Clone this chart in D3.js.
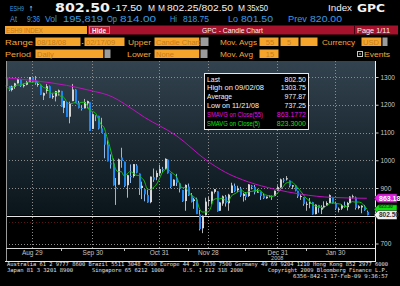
<!DOCTYPE html>
<html>
<head>
<meta charset="utf-8">
<title>ESH9 Index GPC</title>
<script src="https://cdn.jsdelivr.net/npm/d3@7/dist/d3.min.js"></script>
<style>
  html, body { margin: 0; padding: 0; background: #000; }
  svg { display: block; }
  text { font-family: "Liberation Sans", Arial, sans-serif; }
</style>
</head>
<body>
<div id="chart"></div>
<script>
// ESH9 daily bars, 08/18/08 - 02/17/09, one entry per trading day
const opens = [
  1298, 1267, 1253, 1265, 1277, 1291, 1267, 1272, 1283, 1297,
  1288, 1275, 1272, 1233, 1250, 1267, 1227, 1230, 1245, 1250,
  1189, 1210, 1157, 1213, 1255, 1207, 1188, 1187, 1205, 1209,
  1113, 1162, 1160, 1115, 1097, 1057, 989, 988, 903, 912,
  1010, 995, 910, 943, 943, 981, 952, 900, 896, 875,
  849, 939, 939, 953, 968, 969, 1002, 952, 908, 937,
  917, 893, 853, 905, 873, 853, 859, 805, 755, 802,
  853, 852, 886, 888, 818, 844, 869, 845, 882, 907,
  892, 898, 871, 881, 871, 909, 904, 886, 887, 874,
  863, 869, 872, 871, 890, 902, 930, 931, 927, 905,
  909, 890, 869, 867, 841, 844, 849, 806, 839, 822,
  832, 837, 846, 868, 845, 823, 826, 838, 831, 846,
  868, 866, 828, 830, 833, 814
];
const highs = [
  1300, 1267, 1269, 1279, 1294, 1291, 1276, 1286, 1300, 1298,
  1303.75, 1280, 1272, 1244, 1275, 1269, 1243, 1250, 1255, 1250,
  1214, 1210, 1211, 1275, 1256, 1214, 1198, 1221, 1215, 1209,
  1169, 1163, 1160, 1153, 1097, 1072, 1021, 1006, 936, 1006,
  1045, 995, 948, 985, 986, 986, 952, 923, 896, 894,
  941, 970, 963, 984, 976, 1007, 1003, 952, 931, 951,
  917, 893, 913, 916, 882, 865, 865, 821, 801, 865,
  868, 887, 896, 888, 850, 873, 875, 879, 919, 916,
  908, 904, 883, 885, 914, 911, 911, 897, 887, 880,
  869, 873, 873, 891, 910, 934, 936, 943, 927, 910,
  911, 890, 877, 867, 851, 864, 850, 841, 839, 838,
  852, 852, 877, 868, 851, 830, 842, 851, 850, 870,
  876, 869, 838, 838, 839, 818.75
];
const lows = [
  1261, 1249, 1248, 1257, 1277, 1264, 1262, 1270, 1283, 1282,
  1272, 1265, 1235, 1217, 1240, 1224, 1221, 1212, 1233, 1192,
  1170, 1156, 1133, 1213, 1207, 1187, 1179, 1187, 1187, 1106,
  1113, 1141, 1111, 1098, 1007, 996, 970, 909, 839, 912,
  973, 903, 865, 918, 937, 953, 875, 860, 852, 847,
  845, 922, 928, 944, 958, 969, 952, 899, 908, 907,
  884, 850, 818, 871, 848, 825, 806, 747, 737.25, 801,
  834, 841, 880, 815, 818, 836, 833, 818, 882, 885,
  885, 868, 851, 856, 868, 895, 877, 883, 857, 860,
  861, 866, 857, 870, 890, 899, 919, 927, 902, 896,
  888, 864, 857, 836, 818, 827, 804, 805, 811, 806,
  827, 835, 846, 844, 821, 812, 821, 829, 819, 845,
  862, 822, 823, 809, 818, 801.5
];
const closes = [
  1267, 1253, 1266, 1277, 1292, 1267, 1271, 1282, 1300, 1283,
  1277, 1275, 1236, 1242, 1267, 1225, 1232, 1249, 1252, 1193,
  1214, 1156, 1206, 1255, 1207, 1188, 1186, 1209, 1213, 1106,
  1166, 1161, 1114, 1099, 1056, 996, 985, 910, 899, 1003,
  998, 907, 946, 940, 986, 955, 897, 908, 877, 848,
  941, 930, 954, 968, 966, 1005, 953, 904, 930, 919,
  898, 852, 911, 873, 850, 859, 806, 752, 800, 851,
  857, 887, 896, 816, 848, 870, 845, 876, 909, 888,
  899, 873, 879, 868, 913, 904, 885, 887, 871, 863,
  869, 872, 869, 890, 903, 931, 927, 935, 907, 910,
  890, 870, 871, 842, 843, 850, 805, 840, 828, 831,
  836, 846, 874, 845, 826, 825, 838, 832, 846, 869,
  870, 828, 834, 836, 820, 802.5
];

// 55 day SMA (trading day index -> value)
const sma55Days = [0, 9, 21, 29, 37, 41, 48, 59, 70, 76, 84, 93, 102, 113, 125];
const sma55Values = [1297, 1288, 1270, 1252, 1228, 1204, 1155, 1089, 996, 957, 922, 896, 878, 866, 863];

const priceTicks = [700, 800, 900, 1000, 1100, 1200, 1300];
// the 800 label is hidden behind the last price flag
const priceLabelTicks = [700, 900, 1000, 1100, 1200, 1300];
const dateTickDays = [9, 30, 53, 70, 94, 114];
const dateTickLabels = ["Aug 29", "Sep 30", "Oct 31", "Nov 28", "Dec 31", "Jan 30"];
const midMonthDays = [19, 41, 63, 83, 104];

const legendLabels = ["Last", "High on  09/02/08", "Average", "Low on  11/21/08", "SMAVG on Close(55)", "SMAVG on Close(5)"];
const legendValues = ["802.50", "1303.75", "977.87", "737.25", "863.1772", "823.3000"];
const legendColors = ["#f4f4f4", "#f4f4f4", "#f4f4f4", "#f4f4f4", "#e010e0", "#10e010"];
const legendWidths = [13, 57, 25, 52, 56, 53];

const flagValues = [863.18, 823.30, 802.50];
const flagFills = ["#e020e0", "#10e010", "#f0f0f0"];
const flagText = ["#ffffff", "#0a4a0a", "#303030"];

class GpcChart {

  constructor(_config) {
    this.config = {
      parentElement: _config.parentElement,
      containerWidth: 400,
      containerHeight: 286,
      plot: {left: 6, right: 375, top: 61, bottom: 248, frameBottom: 261},
      barWidth: 2
    };
    this.initVis();
  }

  initVis() {
    let vis = this;

    vis.svg = d3.select(vis.config.parentElement).append("svg")
        .attr("width", vis.config.containerWidth)
        .attr("height", vis.config.containerHeight);

    vis.svg.append("rect")
        .attr("width", vis.config.containerWidth)
        .attr("height", vis.config.containerHeight)
        .attr("fill", "#000");

    vis.xScale = d3.scaleLinear()
        .domain([0, closes.length - 1])
        .range([5.7, 366.8]);

    vis.yScale = d3.scaleLinear()
        .domain([700, 1300])
        .range([243.5, 77]);

    vis.renderHeader();
    vis.renderPlot();
    vis.renderLegend();
    vis.renderFooter();
  }

  // small helper for positioned text
  txt(g, x, y, s, fill, size, opts = {}) {
    const t = g.append("text")
        .attr("x", x)
        .attr("y", y)
        .attr("fill", fill)
        .style("font-size", size + "px")
        .text(s);
    if (opts.w) t.attr("textLength", opts.w).attr("lengthAdjust", "spacingAndGlyphs");
    if (opts.bold) t.style("font-weight", "bold");
    if (opts.anchor) t.attr("text-anchor", opts.anchor);
    if (opts.family) t.style("font-family", opts.family);
    return t;
  }

  renderHeader() {
    let vis = this;
    const g = vis.svg.append("g").attr("class", "header");
    const blue = "#3a9be2", white = "#f2f2f2", orange = "#f5a53a", boxFill = "#f6a52c", boxText = "#c47d1c";

    // top quote lines
    vis.txt(g, 10, 11, "ESH9", blue, 7.5, {w: 14});
    vis.txt(g, 29, 11, "\u2191", "#e0e8f0", 7, {w: 4, family: "DejaVu Sans"});
    vis.txt(g, 55, 11.8, "802.50", white, 11.5, {w: 55, bold: true, family: "DejaVu Sans"});
    vis.txt(g, 112, 11, "-17.50", white, 8.5, {w: 30});
    vis.txt(g, 148, 11, "M", white, 8.5, {w: 7});
    vis.txt(g, 158, 11, "M", white, 8.5, {w: 7});
    vis.txt(g, 167, 11, "802.25/802.50", white, 8.5, {w: 66});
    vis.txt(g, 238, 11, "M", white, 8.5, {w: 7});
    vis.txt(g, 247, 11, "35x50", white, 8.5, {w: 21});
    vis.txt(g, 328, 11, "Index", white, 8.5, {w: 24});
    vis.txt(g, 357, 11.8, "GPC", white, 11, {w: 28, bold: true, family: "DejaVu Sans"});

    [["At", 10, 7], ["9:36", 27, 13], ["Vol", 45, 12], ["195,819", 63, 40], ["Op", 107, 10],
     ["814.00", 120, 36], ["Hi", 170, 7], ["818.75", 183, 26], ["Lo", 228, 10],
     ["801.50", 241, 32], ["Prev", 288, 19], ["820.00", 310, 32]]
      .forEach(([s, x, w]) => vis.txt(g, x, 21.5, s, blue, 8.5, {w: w}));

    // security / title bar
    g.append("rect").attr("x", 4.5).attr("y", 25.5).attr("width", 83).attr("height", 9)
        .attr("fill", boxFill).attr("stroke", "#000");
    vis.txt(g, 6, 33, "ESH9 INDEX", boxText, 7, {w: 37});
    g.append("rect").attr("x", 88).attr("y", 25.5).attr("width", 310).attr("height", 9).attr("fill", "#a6112b");
    g.append("rect").attr("x", 89.5).attr("y", 26.5).attr("width", 20).attr("height", 7)
        .attr("fill", "#c8142f").attr("stroke", "#f0c0c0").attr("stroke-dasharray", "1,1");
    vis.txt(g, 92, 32.8, "Hide", white, 7, {w: 14, bold: true});
    vis.txt(g, 202, 33, "GPC - Candle Chart", white, 7, {w: 61});
    g.append("line").attr("x1", 354.5).attr("x2", 354.5).attr("y1", 25.5).attr("y2", 34.5).attr("stroke", "#4a0010");
    vis.txt(g, 357, 33, "Page 1/11", white, 7, {w: 33});

    const box = (x, y, w, s, cap) => {
      g.append("rect").attr("x", x).attr("y", y).attr("width", w).attr("height", 9.5)
          .attr("fill", boxFill).attr("stroke", "#000");
      if (cap) {
        g.append("rect").attr("x", x + w).attr("y", y).attr("width", cap).attr("height", 9.5)
            .attr("fill", "#9c9c9c").attr("stroke", "#000");
      }
      if (s) vis.txt(g, x + 2, y + 8, s, boxText, 7.5);
    };

    // row: Range / Upper / Mov. Avgs / Currency
    vis.txt(g, 5, 45, "Range", orange, 8, {w: 28});
    box(35, 37, 46, "08/18/08");
    vis.txt(g, 81.5, 45, "-", white, 8);
    box(84, 37, 41, "02/17/09");
    vis.txt(g, 128, 45, "Upper", orange, 8, {w: 23});
    box(154, 37, 46, "Candle Chart", 9);
    vis.txt(g, 220, 45, "Mov. Avgs", orange, 8, {w: 37});
    box(259, 37, 20, null);
    vis.txt(g, 270, 45, "55", boxText, 7.5, {anchor: "middle"});
    box(280, 37, 19, null);
    vis.txt(g, 289, 45, "5", boxText, 7.5, {anchor: "middle"});
    box(300, 37, 18, null);
    vis.txt(g, 322, 45, "Currency", orange, 8, {w: 33});
    box(361, 37, 21, "USD", 6);

    // row: Period / Lower / Mov. Avg / Events
    vis.txt(g, 5, 57, "Period", orange, 8, {w: 26});
    box(35, 49, 69, "Daily", 7);
    vis.txt(g, 127, 57, "Lower", orange, 8, {w: 24});
    box(154, 49, 46, "None", 8);
    vis.txt(g, 220, 57, "Mov. Avg", orange, 8, {w: 33});
    box(259, 49, 20, null);
    vis.txt(g, 270, 57, "15", boxText, 7.5, {anchor: "middle"});
    g.append("rect").attr("x", 357.5).attr("y", 51.5).attr("width", 5).attr("height", 5)
        .attr("fill", "#000").attr("stroke", "#c8c8c8");
    g.append("line").attr("x1", 359).attr("x2", 361).attr("y1", 54).attr("y2", 54).attr("stroke", "#c8c8c8");
    vis.txt(g, 364, 57, "Events", orange, 8, {w: 26});
  }

  renderPlot() {
    let vis = this;
    const p = vis.config.plot;
    const lastY = vis.yScale(802.5);

    const defs = vis.svg.append("defs");
    const grad = defs.append("linearGradient")
        .attr("id", "plot-bg")
        .attr("gradientUnits", "userSpaceOnUse")
        .attr("x1", 0).attr("y1", p.top).attr("x2", 0).attr("y2", lastY);
    grad.append("stop").attr("offset", "0%").attr("stop-color", "#33434f");
    grad.append("stop").attr("offset", "45%").attr("stop-color", "#1f2d37");
    grad.append("stop").attr("offset", "100%").attr("stop-color", "#0a151a");

    const g = vis.svg.append("g").attr("class", "plot");

    g.append("rect")
        .attr("x", p.left).attr("y", p.top)
        .attr("width", p.right - p.left).attr("height", lastY - p.top)
        .attr("fill", "url(#plot-bg)");

    // grid
    g.selectAll(".hgrid").data(priceTicks).join("line")
        .attr("class", "hgrid")
        .attr("x1", p.left).attr("x2", p.right)
        .attr("y1", d => Math.round(vis.yScale(d)) + 0.5)
        .attr("y2", d => Math.round(vis.yScale(d)) + 0.5)
        .attr("stroke", "#8c8c8c").attr("stroke-dasharray", "1,2");

    g.selectAll(".vgrid").data(dateTickDays).join("line")
        .attr("class", "vgrid")
        .attr("x1", d => Math.round(vis.xScale(d)) + 0.5)
        .attr("x2", d => Math.round(vis.xScale(d)) + 0.5)
        .attr("y1", p.top).attr("y2", p.bottom)
        .attr("stroke", "#8c8c8c").attr("stroke-dasharray", "1,2");

    // last price line + dotted line of the lower area
    g.append("line")
        .attr("x1", p.left).attr("x2", p.right)
        .attr("y1", Math.round(lastY) + 1.5).attr("y2", Math.round(lastY) + 1.5)
        .attr("stroke", "#e4e4e4");
    g.append("line")
        .attr("x1", p.left).attr("x2", p.right)
        .attr("y1", Math.round(lastY) + 7.5).attr("y2", Math.round(lastY) + 7.5)
        .attr("stroke", "#5a1414").attr("stroke-dasharray", "1,2");

    // candles
    const idx = d3.range(closes.length);
    const bw = vis.config.barWidth;

    g.selectAll(".wick").data(idx).join("line")
        .attr("class", "wick")
        .attr("x1", i => Math.round(vis.xScale(i)) + 0.5)
        .attr("x2", i => Math.round(vis.xScale(i)) + 0.5)
        .attr("y1", i => vis.yScale(highs[i]))
        .attr("y2", i => vis.yScale(lows[i]))
        .attr("stroke", i => closes[i] < opens[i] ? "#8fb8e8" : "#b4b4b4");

    g.selectAll(".body").data(idx).join("rect")
        .attr("class", "body")
        .attr("x", i => Math.round(vis.xScale(i)))
        .attr("width", bw)
        .attr("y", i => vis.yScale(Math.max(opens[i], closes[i])))
        .attr("height", i => Math.max(1, Math.abs(vis.yScale(opens[i]) - vis.yScale(closes[i]))))
        .attr("fill", i => closes[i] < opens[i] ? "#1e86f0" : "#d6d6d6");

    // moving averages
    const sma5 = closes.map((c, i) => d3.mean(closes.slice(Math.max(0, i - 4), i + 1)));
    const line = d3.line().curve(d3.curveMonotoneX);

    g.append("path")
        .attr("d", line(sma55Days.map((d, i) => [vis.xScale(d), vis.yScale(sma55Values[i])])))
        .attr("fill", "none").attr("stroke", "#c010c0").attr("stroke-width", 1);

    g.append("path")
        .attr("d", line(idx.map(i => [vis.xScale(i), vis.yScale(sma5[i])])))
        .attr("fill", "none").attr("stroke", "#10c010").attr("stroke-width", 1);

    // frame
    g.append("line").attr("x1", p.left + 0.5).attr("x2", p.left + 0.5).attr("y1", p.top).attr("y2", p.frameBottom)
        .attr("stroke", "#9a9a9a");
    g.append("line").attr("x1", p.left).attr("x2", p.right).attr("y1", p.bottom + 0.5).attr("y2", p.bottom + 0.5)
        .attr("stroke", "#d8d8d8");
    g.append("line").attr("x1", 5).attr("x2", p.right).attr("y1", p.frameBottom + 0.5).attr("y2", p.frameBottom + 0.5)
        .attr("stroke", "#e8e8e8");
    g.append("line").attr("x1", p.right + 0.5).attr("x2", p.right + 0.5).attr("y1", p.top).attr("y2", p.frameBottom + 1)
        .attr("stroke", "#f0f0f0");

    // x axis
    const xAxis = d3.axisBottom(vis.xScale)
        .tickValues(dateTickDays)
        .tickFormat((d, i) => dateTickLabels[i])
        .tickSize(0)
        .tickPadding(2);
    const xAxisG = g.append("g")
        .attr("transform", `translate(0,${p.bottom})`)
        .call(xAxis);
    xAxisG.select(".domain").remove();
    xAxisG.selectAll("text").attr("fill", "#c4c4c4").style("font-size", "6.5px")
        .style("font-family", "\"Liberation Sans\", Arial, sans-serif");

    g.selectAll(".minor").data(midMonthDays).join("line")
        .attr("class", "minor")
        .attr("x1", d => Math.round(vis.xScale(d)) + 0.5)
        .attr("x2", d => Math.round(vis.xScale(d)) + 0.5)
        .attr("y1", p.bottom + 1).attr("y2", p.bottom + 3)
        .attr("stroke", "#c0c0c0");

    vis.txt(g, vis.xScale(94), 259.5, "2008", "#c4c4c4", 5.5, {anchor: "middle"});

    // y axis on the right
    const yAxis = d3.axisRight(vis.yScale)
        .tickValues(priceLabelTicks)
        .tickSize(3)
        .tickPadding(2)
        .tickFormat(d3.format("d"));
    const yAxisG = g.append("g")
        .attr("transform", `translate(${p.right + 0.5},0)`)
        .call(yAxis);
    yAxisG.select(".domain").remove();
    yAxisG.selectAll("line").attr("stroke", "#c8c8c8");
    yAxisG.selectAll("text").attr("fill", "#c8c8c8").style("font-size", "6.5px")
        .style("font-family", "\"Liberation Sans\", Arial, sans-serif");

    // price flags on the axis (the green one sits partly under the last price flag)
    const flagSize = [7, 4.5, 6.5];
    const flagDy = [2.5, -0.8, 2.4];
    const flags = g.selectAll(".flag").data(flagValues).join("g").attr("class", "flag");
    flags.append("path")
        .attr("d", d => {
          const y = vis.yScale(d);
          return `M${p.right - 1},${y} L${p.right + 3},${y - 4.5} L397,${y - 4.5} L397,${y + 4.5} L${p.right + 3},${y + 4.5} Z`;
        })
        .attr("fill", (d, i) => flagFills[i])
        .attr("stroke", "#000").attr("stroke-width", 0.5);
    flags.append("text")
        .attr("x", 379)
        .attr("y", (d, i) => vis.yScale(d) + flagDy[i])
        .attr("fill", (d, i) => flagText[i])
        .style("font-size", (d, i) => flagSize[i] + "px")
        .style("font-weight", "bold")
        .text(d => d3.format(".2f")(d));
  }

  renderLegend() {
    let vis = this;
    const g = vis.svg.append("g").attr("class", "legend");

    g.append("rect")
        .attr("x", 204.5).attr("y", 73.5)
        .attr("width", 104).attr("height", 56)
        .attr("fill", "#000").attr("stroke", "#e8e8e8");

    legendLabels.forEach((s, i) => {
      const y = 81.5 + i * 8.9;
      vis.txt(g, 207, y, s, legendColors[i], 7, {w: legendWidths[i]});
      vis.txt(g, 306, y, legendValues[i], legendColors[i], 7, {anchor: "end"});
    });
  }

  renderFooter() {
    let vis = this;
    const g = vis.svg.append("g").attr("class", "footer");
    const mono = "\"DejaVu Sans Mono\", monospace";
    const c = "#e0e0e0";

    vis.txt(g, 7, 266, "Australia 61 2 9777 8600 Brazil 5511 3048 4500 Europe 44 20 7330 7500 Germany 49 69 9204 1210 Hong Kong 852 2977 6000",
        c, 5.5, {w: 381, family: mono});
    vis.txt(g, 7, 272, "Japan 81 3 3201 8900", c, 5.5, {w: 66, family: mono});
    vis.txt(g, 92, 272, "Singapore 65 6212 1000", c, 5.5, {w: 72, family: mono});
    vis.txt(g, 183, 272, "U.S. 1 212 318 2000", c, 5.5, {w: 60, family: mono});
    vis.txt(g, 268, 272, "Copyright 2009 Bloomberg Finance L.P.", c, 5.5, {w: 120, family: mono});
    vis.txt(g, 293, 278, "6356-842-1 17-Feb-09  9:36:57", c, 5.5, {w: 95, family: mono});
  }
}

const chart = new GpcChart({parentElement: "#chart"});
</script>
</body>
</html>
